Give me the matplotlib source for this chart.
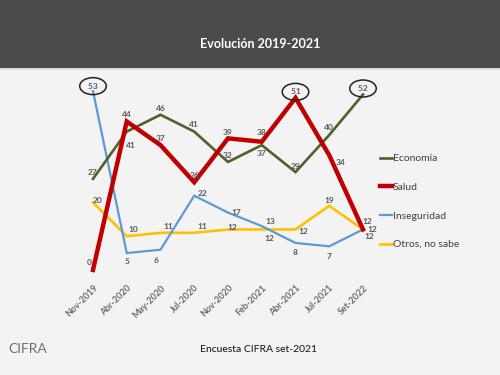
import matplotlib.pyplot as plt
from matplotlib.patches import Rectangle

plt.rcParams['font.family'] = ['Lato', 'DejaVu Sans']

# ----------------------------------------
# Data
# ----------------------------------------
periods = ['Nov-2019', 'Abr-2020', 'May-2020', 'Jul-2020', 'Nov-2020',
           'Feb-2021', 'Abr-2021', 'Jul-2021', 'Set-2022']
economia = [27, 41, 46, 41, 32, 37, 29, 40, 52]
salud = [0, 44, 37, 26, 39, 38, 51, 34, 12]
inseguridad = [53, 5, 6, 22, 17, 13, 8, 7, 12]
otros = [20, 10, 11, 11, 12, 12, 12, 19, 12]

# label offsets in pixels (dx, dy) for each value label
off_econ = [(0, 6), (4, -14), (0, 6), (0, 7), (0, 6), (0, -8), (0, 6), (0, 7), (0, 6)]
off_salud = [(-4, 7), (0, 7), (0, 7), (0, 7), (0, 6), (0, 9), (0, 6), (11, -7), (4, 8)]
off_inseg = [(0, 5), (0, -8), (-4, -11), (8, 2), (8, 0), (9, 5), (0, -10), (0, -10), (6, -7)]
off_otros = [(5, 2), (7, 7), (8, 6), (8, 6), (4, 2), (8, -9), (8, -2), (0, 5), (9, 0)]
circled = {('inseg', 0), ('salud', 6), ('econ', 8)}

# ----------------------------------------
# Figure layout
# ----------------------------------------
fig = plt.figure(figsize=(5, 3.75), dpi=100)
fig.patch.set_facecolor('#f3f3f3')
W, H = 500, 375

# dark header band
fig.add_artist(Rectangle((0, 1 - 68 / H), 1, 68 / H, transform=fig.transFigure,
                         facecolor='#4b4b4b', edgecolor='none', zorder=0))
fig.add_artist(Rectangle((0, 1 - 70 / H), 1, 2 / H, transform=fig.transFigure,
                         facecolor='#dcdcdc', edgecolor='none', zorder=0))
fig.text(260 / W, 1 - 44 / H, 'Evolución 2019-2021', color='white',
         fontsize=9, fontweight='bold', ha='center', va='center')

ax = fig.add_axes([80 / W, 1 - 275 / H, (376 - 80) / W, (275 - 80) / H])
ax.set_facecolor('none')
ax.set_xlim(-0.385, 8.385)
ax.set_ylim(-1.5, 56.3)

x = list(range(len(periods)))
series = [
    ('otros', otros, 'Otros, no sabe', '#ffc000', 1.9, off_otros),
    ('inseg', inseguridad, 'Inseguridad', '#5b9bd5', 1.6, off_inseg),
    ('econ', economia, 'Economía', '#4f6228', 1.9, off_econ),
    ('salud', salud, 'Salud', '#c00000', 3.2, off_salud),
]
handles = {}
for key, vals, name, col, lw, offs in series:
    line, = ax.plot(x, vals, color=col, lw=lw, solid_joinstyle='miter')
    handles[name] = line
    for i, v in enumerate(vals):
        dx, dy = offs[i]
        label = str(v)
        kw = {}
        if (key, i) in circled:
            label = ' ' + label + ' '
            kw['bbox'] = dict(boxstyle='ellipse,pad=0.3', fc='none',
                              ec='#222222', lw=1.1)
        ax.annotate(label, (i, v), xytext=(dx, dy), textcoords='offset pixels',
                    ha='center', va='center', fontsize=6, fontweight='bold',
                    color='#595959', **kw)

for s in ax.spines.values():
    s.set_visible(False)
ax.set_yticks([])
ax.set_xticks(x)
ax.set_xticklabels(periods, rotation=45, ha='right', rotation_mode='anchor',
                   fontsize=6.5, fontweight='bold', color='#6b6b6b')
ax.tick_params(axis='x', length=0, pad=6)

order = ['Economía', 'Salud', 'Inseguridad', 'Otros, no sabe']
leg = ax.legend([handles[n] for n in order], order, loc='upper left',
                bbox_to_anchor=(376 / W, 1 - 150 / H), bbox_transform=fig.transFigure,
                frameon=False, fontsize=7.5, handlelength=1.1, handletextpad=0.1,
                labelspacing=1.85, borderaxespad=0)
for t in leg.get_texts():
    t.set_color('#404040')

fig.text(258 / W, 1 - 349 / H, 'Encuesta CIFRA set-2021', fontsize=7.5,
         color='#111111', ha='center', va='center')
fig.text(28 / W, 1 - 349 / H, 'CIFRA', fontsize=10, color='#6f6f6f',
         ha='center', va='center')

fig.savefig('out.png', dpi=100, facecolor=fig.get_facecolor())
